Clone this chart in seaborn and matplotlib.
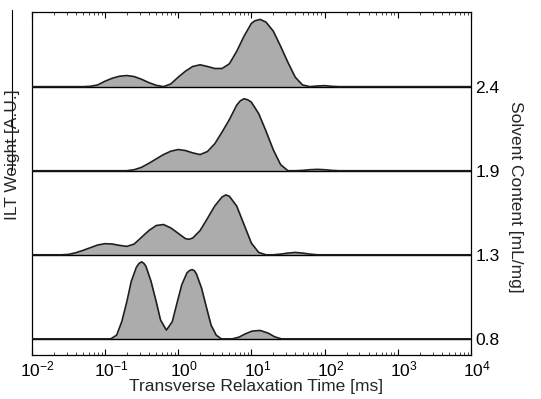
"""
Stacked ILT relaxation time distributions vs solvent content
"""

import numpy as np
import pandas as pd
import matplotlib
matplotlib.use('Agg')
import matplotlib.pyplot as plt
from matplotlib.lines import Line2D
from matplotlib.ticker import LogLocator, NullFormatter
from matplotlib.transforms import ScaledTranslation
import seaborn as sns

# solvent content of each trace [mL/mg], bottom to top
solvent = ['0.8', '1.3', '1.9', '2.4']

# log10 of relaxation time [ms] and ILT weight [A.U.] per trace
logt_08 = [-2.0, -0.92, -0.84, -0.77, -0.70, -0.64, -0.57, -0.535, -0.50, -0.47, -0.44,
           -0.37, -0.30, -0.24, -0.16, -0.08, -0.01, 0.05, 0.12, 0.155, 0.19, 0.22,
           0.25, 0.32, 0.39, 0.45, 0.52, 0.59, 0.74, 0.83, 0.92, 1.01, 1.12, 1.23,
           1.32, 1.41, 4.0]
w_08 = [0, 0, 11, 51, 111, 171, 213, 224, 229, 225, 216,
        171, 111, 56, 26, 51, 111, 161, 196, 203, 206, 203,
        193, 151, 91, 41, 11, 0, 0, 5, 15, 23, 25, 17,
        6, 0, 0]

logt_13 = [-2.0, -1.6, -1.5, -1.4, -1.3, -1.2, -1.1, -1.0, -0.9, -0.8, -0.7, -0.6, -0.5,
           -0.4, -0.3, -0.2, -0.1, 0.0, 0.1, 0.15, 0.2, 0.3, 0.4, 0.5, 0.6, 0.65, 0.7,
           0.8, 0.9, 1.0, 1.1, 1.2, 1.3, 1.4, 1.5, 1.6, 1.7, 1.8, 1.9, 4.0]
w_13 = [0, 0, 1, 6, 13, 21, 29, 33, 32, 28, 25, 32, 52,
        72, 87, 90, 80, 64, 48, 46, 50, 72, 108, 145, 172, 178, 174,
        145, 90, 35, 7, 0, 0, 2, 5, 7, 5, 2, 0, 0]

logt_19 = [-2.0, -0.7, -0.6, -0.5, -0.4, -0.3, -0.2, -0.1, 0.0, 0.1, 0.2, 0.3, 0.4,
           0.5, 0.6, 0.7, 0.8, 0.85, 0.9, 0.95, 1.0, 1.1, 1.2, 1.3, 1.4, 1.5, 1.6, 1.7,
           1.8, 1.9, 2.0, 2.1, 2.2, 4.0]
w_19 = [0, 0, 3, 10, 22, 35, 48, 58, 63, 60, 53, 48, 57,
        80, 115, 152, 195, 208, 214, 211, 204, 170, 118, 62, 18, 0, 0, 1,
        3, 4, 3, 1, 0, 0]

logt_24 = [-2.0, -1.3, -1.2, -1.1, -1.0, -0.9, -0.8, -0.7, -0.6, -0.5, -0.4, -0.3, -0.2,
           -0.1, 0.0, 0.1, 0.2, 0.3, 0.4, 0.5, 0.6, 0.7, 0.8, 0.9, 1.0, 1.05, 1.12,
           1.2, 1.3, 1.4, 1.5, 1.6, 1.7, 1.8, 1.9, 2.0, 2.1, 2.2, 4.0]
w_24 = [0, 0, 1, 5, 16, 25, 31, 33, 30, 22, 12, 4, 0,
        8, 28, 46, 60, 65, 60, 54, 54, 68, 105, 150, 188, 196, 200,
        192, 165, 120, 72, 28, 5, 0, 2, 3, 1, 0, 0]

traces = [(logt_08, w_08), (logt_13, w_13), (logt_19, w_19), (logt_24, w_24)]
STEP = 250  # vertical spacing between stacked traces

sns.set_style('ticks')
plt.rcParams['font.family'] = ['Liberation Sans', 'DejaVu Sans']
plt.rcParams['mathtext.fontset'] = 'custom'
plt.rcParams['mathtext.rm'] = 'Liberation Sans'

fig = plt.figure(figsize=(5.41, 3.99), dpi=100)
ax = fig.add_axes([31.7 / 541, 1 - 355 / 399, (471 - 31.7) / 541, (355 - 12) / 399])

for i, (lt, w) in enumerate(traces):
    df = pd.DataFrame({'T': 10 ** np.array(lt, dtype=float),
                       'W': np.array(w, dtype=float) + i * STEP})
    ax.fill_between(df['T'], i * STEP, df['W'], color='#acacac', lw=0, zorder=1)
    sns.lineplot(data=df, x='T', y='W', color='#1e1e1e', lw=1.2, ax=ax, zorder=3)
    ax.axhline(i * STEP, color='black', lw=1.0, zorder=2)

ax.set_xscale('log')
ax.set_xlim(1e-2, 1e4)
ax.set_ylim(-48, 972)
ax.xaxis.set_major_locator(LogLocator(base=10, numticks=10))
ax.xaxis.set_minor_locator(LogLocator(base=10, subs=np.arange(2, 10), numticks=20))
ax.xaxis.set_minor_formatter(NullFormatter())
ax.tick_params(axis='x', which='major', direction='in', length=4, width=0.8,
               top=True, bottom=True, labelsize=12.5, pad=3, colors='black')
ax.tick_params(axis='x', which='minor', direction='in', length=2, width=0.6,
               top=True, bottom=True)

ax.set_yticks([i * STEP for i in range(len(solvent))])
ax.set_yticklabels(solvent)
ax.yaxis.tick_right()
ax.tick_params(axis='y', length=0, labelsize=12.5, pad=3, colors='black')

for s in ax.spines.values():
    s.set_color('black')
    s.set_linewidth(0.9)

ax.set_xlabel('')
ax.set_ylabel('')

fig.canvas.draw()
shift = ScaledTranslation(6 / 100, 0, fig.dpi_scale_trans)
for lab in ax.get_xticklabels():
    lab.set_transform(lab.get_transform() + shift)

fig.text(256 / 541, 1 - 386 / 399, 'Transverse Relaxation Time [ms]',
         ha='center', va='center', fontsize=12.5)
fig.text(13 / 541, 1 - 155 / 399, 'ILT Weight [A.U.]', rotation=90,
         ha='center', va='center', fontsize=12.5)
fig.text(515 / 541, 1 - 197 / 399, 'Solvent Content [mL/mg]', rotation=270,
         ha='center', va='center', fontsize=12.5)
fig.add_artist(Line2D([12 / 541, 12 / 541], [1 - 10 / 399, 1 - 170 / 399],
                      color='black', lw=0.8))

fig.savefig('out.png', dpi=100)
